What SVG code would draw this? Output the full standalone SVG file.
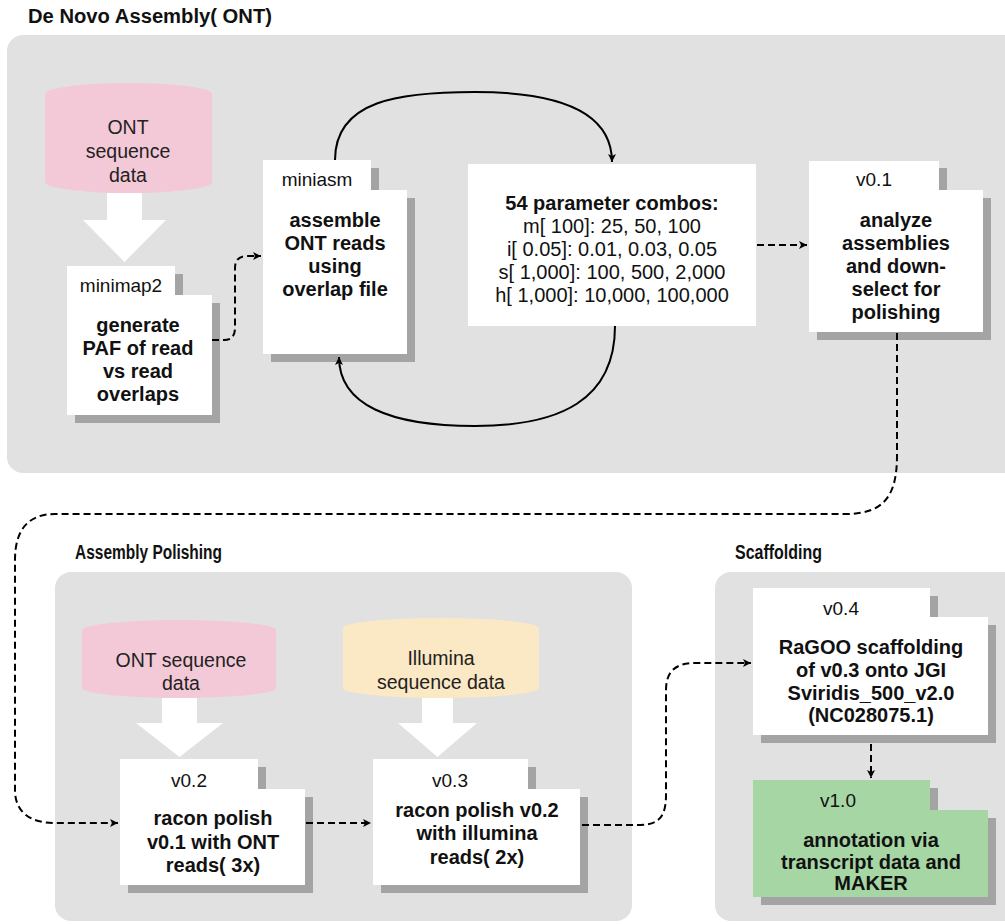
<svg xmlns="http://www.w3.org/2000/svg" width="1005" height="924" viewBox="0 0 1005 924">
<defs>
<marker id="ah" markerUnits="userSpaceOnUse" markerWidth="10" markerHeight="10" refX="8" refY="4" orient="auto">
<path d="M0,0 L8,4 L0,8 L2,4 Z" fill="#000"/>
</marker>
</defs>
<style>
.panel{fill:#e1e1e1}
.title{font-family:"Liberation Sans",Arial,sans-serif;font-weight:bold;font-size:19.5px;fill:#111}
.shadow{fill:#a4a4a4}
.box{fill:#fff}
.green{fill:#a6d6a4}
.tab{font-family:"Liberation Sans",Arial,sans-serif;font-size:19px;fill:#111;text-anchor:middle}
.body{font-family:"Liberation Sans",Arial,sans-serif;font-size:20px;font-weight:bold;fill:#111;text-anchor:middle}
.reg{font-family:"Liberation Sans",Arial,sans-serif;font-size:20px;fill:#111;text-anchor:middle}
.cyl{font-family:"Liberation Sans",Arial,sans-serif;font-size:19.5px;fill:#222;text-anchor:middle}
.solid{fill:none;stroke:#000;stroke-width:2}
.dash{fill:none;stroke:#000;stroke-width:2;stroke-dasharray:7,4}
.warrow{fill:#fff}
</style>

<g id="panels">
<rect class="panel" x="7" y="35" width="1020" height="438" rx="16"/>
<rect class="panel" x="55" y="572" width="577" height="349" rx="16"/>
<rect class="panel" x="715" y="572" width="320" height="349" rx="16"/>
<text class="title" x="28" y="23" textLength="244" lengthAdjust="spacingAndGlyphs">De Novo Assembly( ONT)</text>
<text class="title" x="75" y="559" textLength="147" lengthAdjust="spacingAndGlyphs">Assembly Polishing</text>
<text class="title" x="735" y="559" textLength="87" lengthAdjust="spacingAndGlyphs">Scaffolding</text>
</g>

<g id="ont1">
<path d="M45,94 A83.5,11 0 0 1 212,94 V182 A83.5,11 0 0 1 45,182 Z" fill="#f4c9d7"/>
<text class="cyl" x="128" y="134">ONT</text>
<text class="cyl" x="128" y="158">sequence</text>
<text class="cyl" x="128" y="182">data</text>
<polygon class="warrow" points="107,193 142,193 142,220 166,220 124.5,262 83,220 107,220"/>
</g>

<g id="minimap2">
<rect class="shadow" x="75" y="274" width="108" height="29"/>
<rect class="shadow" x="75" y="303" width="145" height="120"/>
<rect class="box" x="67" y="266" width="108" height="29"/>
<rect class="box" x="67" y="295" width="145" height="120"/>
<text class="tab" x="121" y="292">minimap2</text>
<text class="body" x="138" y="332">generate</text>
<text class="body" x="138" y="355">PAF of read</text>
<text class="body" x="138" y="378">vs read</text>
<text class="body" x="138" y="401">overlaps</text>
</g>

<g id="miniasm">
<rect class="shadow" x="271" y="168" width="108" height="30"/>
<rect class="shadow" x="271" y="198" width="144" height="164"/>
<rect class="box" x="263" y="160" width="108" height="30"/>
<rect class="box" x="263" y="190" width="144" height="164"/>
<text class="tab" x="317" y="186">miniasm</text>
<text class="body" x="335" y="227">assemble</text>
<text class="body" x="335" y="250">ONT reads</text>
<text class="body" x="335" y="273">using</text>
<text class="body" x="335" y="296">overlap file</text>
</g>

<g id="params">
<rect class="box" x="468" y="164" width="288" height="162"/>
<text class="body" x="612" y="210">54 parameter combos:</text>
<text class="reg" x="612" y="233">m[ 100]: 25, 50, 100</text>
<text class="reg" x="612" y="256">i[ 0.05]: 0.01, 0.03, 0.05</text>
<text class="reg" x="612" y="279">s[ 1,000]: 100, 500, 2,000</text>
<text class="reg" x="612" y="302">h[ 1,000]: 10,000, 100,000</text>
</g>

<g id="v01">
<rect class="shadow" x="817" y="168" width="130" height="30"/>
<rect class="shadow" x="817" y="198" width="174" height="142"/>
<rect class="box" x="809" y="161" width="130" height="29"/>
<rect class="box" x="809" y="190" width="174" height="142"/>
<text class="tab" x="874" y="186">v0.1</text>
<text class="body" x="896" y="227">analyze</text>
<text class="body" x="896" y="250">assemblies</text>
<text class="body" x="896" y="273">and down-</text>
<text class="body" x="896" y="296">select for</text>
<text class="body" x="896" y="319">polishing</text>
</g>

<g id="ont2">
<path d="M82,630 A97,10 0 0 1 276,630 V688 A97,10 0 0 1 82,688 Z" fill="#f4c9d7"/>
<text class="cyl" x="181" y="667">ONT sequence</text>
<text class="cyl" x="181" y="690">data</text>
<polygon class="warrow" points="162,698 197,698 197,723 223,723 179.5,757 136,723 162,723"/>
</g>

<g id="illumina">
<path d="M343,628 A98,10 0 0 1 539,628 V688 A98,10 0 0 1 343,688 Z" fill="#fbe8c4"/>
<text class="cyl" x="441" y="665">Illumina</text>
<text class="cyl" x="441" y="689">sequence data</text>
<polygon class="warrow" points="422,698 453,698 453,723 477,723 437.5,757 398,723 422,723"/>
</g>

<g id="v02">
<rect class="shadow" x="128" y="767" width="138" height="30"/>
<rect class="shadow" x="128" y="797" width="185" height="96"/>
<rect class="box" x="120" y="759" width="138" height="30"/>
<rect class="box" x="120" y="789" width="185" height="96"/>
<text class="tab" x="189" y="787">v0.2</text>
<text class="body" x="213" y="825">racon polish</text>
<text class="body" x="213" y="849">v0.1 with ONT</text>
<text class="body" x="213" y="872">reads( 3x)</text>
</g>

<g id="v03">
<rect class="shadow" x="381" y="767" width="155" height="30"/>
<rect class="shadow" x="381" y="797" width="207" height="96"/>
<rect class="box" x="373" y="759" width="155" height="30"/>
<rect class="box" x="373" y="789" width="207" height="96"/>
<text class="tab" x="450" y="787">v0.3</text>
<text class="body" x="477" y="817">racon polish v0.2</text>
<text class="body" x="477" y="840">with illumina</text>
<text class="body" x="477" y="864">reads( 2x)</text>
</g>

<g id="v04">
<rect class="shadow" x="761" y="596" width="177" height="29"/>
<rect class="shadow" x="761" y="625" width="235" height="118"/>
<rect class="box" x="753" y="588" width="177" height="29"/>
<rect class="box" x="753" y="617" width="235" height="118"/>
<text class="tab" x="841" y="615">v0.4</text>
<text class="body" x="871" y="654">RaGOO scaffolding</text>
<text class="body" x="871" y="677">of v0.3 onto JGI</text>
<text class="body" x="871" y="700">Sviridis_500_v2.0</text>
<text class="body" x="871" y="722">(NC028075.1)</text>
</g>

<g id="v10">
<rect class="shadow" x="761" y="788" width="177" height="30"/>
<rect class="shadow" x="761" y="818" width="235" height="87"/>
<rect class="green" x="753" y="780" width="177" height="30"/>
<rect class="green" x="753" y="810" width="235" height="87"/>
<text class="tab" x="838" y="807">v1.0</text>
<text class="body" x="871" y="847">annotation via</text>
<text class="body" x="871" y="869">transcript data and</text>
<text class="body" x="871" y="890">MAKER</text>
</g>

<g id="connectors">
<path class="dash" d="M212,340 H224 Q235,340 235,328 V268 Q235,256 247,256 H261" marker-end="url(#ah)"/>
<path class="solid" d="M335,160 C335,100 400,92 475,92 C555,92 612,110 612,162" marker-end="url(#ah)"/>
<path class="solid" d="M615,326 C615,400 560,426 475,426 C390,426 339,405 339,357" marker-end="url(#ah)"/>
<path class="dash" d="M757,245 H807" marker-end="url(#ah)"/>
<path class="dash" d="M897,333 V455 C897,495 885,514 845,514 H55 C28,514 15,530 15,560 V790 C15,812 30,823 55,823 H118" marker-end="url(#ah)"/>
<path class="dash" d="M306,823 H371" marker-end="url(#ah)"/>
<path class="dash" d="M582,825 H640 C660,825 666,815 666,795 V690 C666,672 675,663 695,663 H751" marker-end="url(#ah)"/>
<path class="dash" d="M871,744 V778" marker-end="url(#ah)"/>
</g>
</svg>
